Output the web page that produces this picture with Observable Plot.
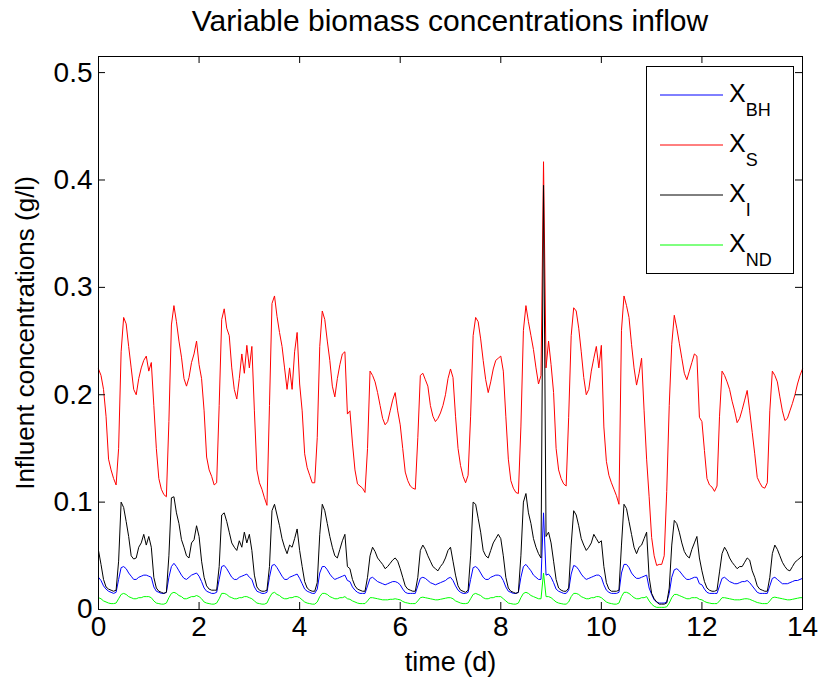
<!DOCTYPE html>
<html><head><meta charset="utf-8">
<script src="https://cdn.jsdelivr.net/npm/d3@7"></script>
<script src="https://cdn.jsdelivr.net/npm/@observablehq/plot@0.6"></script>
<style>
body{margin:0;background:#fff;font-family:"Liberation Sans",Arial,Helvetica,sans-serif;}
#wrap{position:relative;width:820px;height:684px;background:#fff;}
#title{position:absolute;left:98px;width:704px;top:0;height:42px;line-height:42px;text-align:center;font-size:30px;color:#000;white-space:nowrap;}
#chart{position:absolute;left:0;top:40px;}
#legend{position:absolute;left:646px;top:66px;width:146px;height:206px;border:1px solid #000;background:#fff;}
</style></head>
<body><div id="wrap"><div id="chart"></div><div id="title"></div><div id="legend"></div></div>
<script>
// sampling grid: every 0.05 d from 0 to 14
const time = d3.range(281).map(i => +(i * 0.05).toFixed(2));

const xBH = [
0.030,0.027,0.022,0.019,0.017,0.016,0.015,0.016,0.028,0.039,0.040,0.038,0.034,0.031,0.028,0.028,0.030,0.031,0.032,0.032,
0.031,0.030,0.021,0.017,0.016,0.015,0.015,0.016,0.030,0.040,0.043,0.040,0.036,0.032,0.029,0.028,0.030,0.032,0.033,0.034,
0.031,0.026,0.020,0.017,0.016,0.015,0.015,0.016,0.028,0.040,0.041,0.038,0.034,0.030,0.028,0.028,0.030,0.031,0.032,0.033,
0.030,0.028,0.021,0.017,0.016,0.015,0.015,0.016,0.030,0.041,0.042,0.039,0.035,0.031,0.028,0.028,0.030,0.031,0.032,0.033,
0.029,0.024,0.019,0.017,0.016,0.015,0.015,0.019,0.034,0.040,0.040,0.037,0.033,0.030,0.028,0.029,0.030,0.031,0.032,0.027,
0.026,0.021,0.018,0.016,0.015,0.015,0.015,0.022,0.029,0.030,0.028,0.026,0.025,0.024,0.023,0.024,0.025,0.026,0.026,0.025,
0.023,0.019,0.016,0.015,0.015,0.015,0.015,0.022,0.029,0.030,0.029,0.027,0.025,0.024,0.023,0.024,0.025,0.026,0.027,0.029,
0.030,0.027,0.022,0.018,0.016,0.015,0.015,0.016,0.028,0.039,0.040,0.038,0.034,0.030,0.028,0.028,0.030,0.031,0.032,0.032,
0.031,0.027,0.021,0.017,0.016,0.015,0.015,0.016,0.030,0.040,0.042,0.039,0.036,0.032,0.030,0.028,0.028,0.090,0.032,0.033,
0.030,0.025,0.019,0.017,0.016,0.015,0.015,0.018,0.033,0.041,0.040,0.037,0.033,0.030,0.028,0.029,0.030,0.031,0.032,0.032,
0.030,0.023,0.018,0.016,0.015,0.015,0.015,0.016,0.034,0.042,0.042,0.039,0.034,0.031,0.029,0.029,0.030,0.031,0.032,0.020,
0.014,0.009,0.007,0.006,0.006,0.006,0.007,0.015,0.030,0.037,0.038,0.036,0.033,0.030,0.028,0.028,0.029,0.030,0.030,0.024,
0.023,0.019,0.016,0.015,0.015,0.015,0.015,0.022,0.029,0.030,0.028,0.026,0.025,0.024,0.024,0.025,0.026,0.026,0.027,0.025,
0.022,0.019,0.016,0.015,0.015,0.015,0.015,0.022,0.029,0.030,0.028,0.026,0.024,0.024,0.024,0.025,0.026,0.027,0.027,0.028,
0.029];

const xS = [
0.224,0.218,0.205,0.180,0.140,0.130,0.122,0.116,0.150,0.240,0.272,0.266,0.245,0.225,0.205,0.200,0.215,0.225,0.232,0.236,
0.222,0.230,0.190,0.150,0.122,0.112,0.107,0.105,0.175,0.265,0.283,0.268,0.250,0.235,0.215,0.208,0.216,0.230,0.238,0.250,
0.228,0.215,0.185,0.142,0.130,0.124,0.116,0.118,0.190,0.270,0.280,0.262,0.255,0.225,0.205,0.196,0.215,0.238,0.220,0.246,
0.225,0.245,0.185,0.130,0.118,0.112,0.104,0.097,0.190,0.285,0.292,0.273,0.258,0.245,0.225,0.205,0.225,0.205,0.240,0.258,
0.210,0.185,0.145,0.132,0.125,0.118,0.118,0.160,0.245,0.278,0.270,0.250,0.232,0.208,0.198,0.215,0.228,0.238,0.240,0.182,
0.185,0.155,0.130,0.117,0.115,0.113,0.109,0.150,0.222,0.218,0.212,0.202,0.190,0.178,0.172,0.175,0.185,0.195,0.202,0.185,
0.172,0.150,0.128,0.120,0.115,0.113,0.112,0.160,0.218,0.220,0.214,0.208,0.190,0.180,0.175,0.178,0.183,0.190,0.200,0.215,
0.224,0.216,0.180,0.150,0.134,0.124,0.118,0.125,0.180,0.255,0.272,0.268,0.252,0.232,0.214,0.202,0.212,0.224,0.232,0.234,
0.236,0.222,0.180,0.140,0.120,0.113,0.109,0.108,0.170,0.260,0.283,0.268,0.255,0.242,0.225,0.210,0.218,0.417,0.225,0.250,
0.228,0.202,0.150,0.130,0.122,0.117,0.115,0.179,0.255,0.281,0.278,0.262,0.240,0.216,0.200,0.205,0.222,0.234,0.245,0.225,
0.246,0.170,0.138,0.125,0.118,0.112,0.106,0.098,0.260,0.292,0.283,0.272,0.247,0.225,0.209,0.220,0.234,0.185,0.140,0.105,
0.067,0.050,0.041,0.042,0.042,0.050,0.110,0.190,0.247,0.274,0.262,0.248,0.234,0.220,0.214,0.222,0.230,0.238,0.236,0.179,
0.175,0.148,0.122,0.116,0.114,0.110,0.115,0.180,0.222,0.218,0.212,0.205,0.194,0.185,0.174,0.178,0.186,0.195,0.204,0.185,
0.165,0.145,0.123,0.118,0.114,0.113,0.118,0.185,0.222,0.218,0.212,0.198,0.185,0.176,0.178,0.185,0.192,0.200,0.210,0.218,
0.224];

const xI = [
0.055,0.042,0.028,0.021,0.019,0.018,0.017,0.018,0.045,0.100,0.095,0.082,0.068,0.050,0.047,0.048,0.058,0.062,0.070,0.060,
0.068,0.058,0.030,0.020,0.017,0.016,0.015,0.016,0.050,0.104,0.105,0.090,0.080,0.065,0.058,0.050,0.048,0.062,0.065,0.078,
0.068,0.045,0.030,0.022,0.019,0.018,0.018,0.018,0.040,0.088,0.090,0.082,0.072,0.062,0.058,0.055,0.064,0.058,0.072,0.062,
0.070,0.055,0.032,0.021,0.018,0.017,0.017,0.018,0.040,0.092,0.098,0.088,0.078,0.066,0.058,0.052,0.060,0.058,0.066,0.075,
0.055,0.040,0.026,0.020,0.018,0.017,0.017,0.025,0.070,0.098,0.092,0.080,0.068,0.058,0.050,0.048,0.056,0.064,0.070,0.040,
0.038,0.028,0.022,0.019,0.018,0.017,0.017,0.030,0.050,0.058,0.054,0.048,0.045,0.042,0.038,0.040,0.043,0.046,0.048,0.045,
0.038,0.030,0.022,0.019,0.018,0.017,0.017,0.030,0.055,0.060,0.056,0.050,0.045,0.040,0.038,0.036,0.040,0.043,0.048,0.055,
0.058,0.045,0.032,0.022,0.018,0.017,0.016,0.018,0.050,0.100,0.098,0.085,0.072,0.055,0.050,0.048,0.055,0.062,0.066,0.070,
0.066,0.050,0.030,0.020,0.017,0.016,0.015,0.016,0.050,0.100,0.108,0.090,0.080,0.066,0.058,0.052,0.048,0.395,0.068,0.072,
0.062,0.045,0.028,0.020,0.018,0.017,0.017,0.020,0.060,0.092,0.088,0.078,0.066,0.060,0.055,0.058,0.062,0.070,0.066,0.062,
0.064,0.040,0.025,0.019,0.017,0.017,0.017,0.018,0.060,0.098,0.094,0.082,0.070,0.058,0.052,0.058,0.060,0.066,0.072,0.030,
0.015,0.010,0.007,0.005,0.005,0.005,0.006,0.020,0.060,0.083,0.080,0.072,0.062,0.054,0.050,0.048,0.056,0.062,0.068,0.048,
0.036,0.026,0.020,0.018,0.017,0.017,0.018,0.035,0.052,0.058,0.054,0.048,0.044,0.041,0.038,0.040,0.040,0.044,0.048,0.046,
0.036,0.030,0.022,0.019,0.018,0.017,0.017,0.030,0.052,0.060,0.056,0.050,0.044,0.040,0.037,0.036,0.040,0.044,0.046,0.048,
0.050];

const xND = [
0.011,0.010,0.008,0.007,0.006,0.0055,0.0055,0.006,0.010,0.014,0.015,0.014,0.012,0.011,0.010,0.010,0.011,0.011,0.012,0.012,
0.012,0.011,0.008,0.006,0.0055,0.005,0.005,0.006,0.011,0.015,0.016,0.015,0.013,0.012,0.010,0.010,0.011,0.012,0.012,0.013,
0.012,0.010,0.007,0.006,0.0055,0.005,0.005,0.006,0.010,0.015,0.015,0.014,0.012,0.011,0.010,0.010,0.011,0.011,0.012,0.012,
0.011,0.010,0.008,0.006,0.0055,0.005,0.005,0.006,0.011,0.015,0.016,0.014,0.013,0.011,0.010,0.010,0.011,0.011,0.012,0.012,
0.011,0.009,0.007,0.006,0.0055,0.005,0.005,0.007,0.012,0.015,0.015,0.014,0.012,0.011,0.010,0.010,0.011,0.011,0.012,0.010,
0.0095,0.008,0.007,0.006,0.0055,0.0055,0.0055,0.008,0.011,0.011,0.0105,0.010,0.0095,0.009,0.009,0.009,0.0095,0.0095,0.010,0.0095,
0.009,0.0075,0.0065,0.006,0.0055,0.0055,0.0055,0.008,0.011,0.0115,0.011,0.0105,0.010,0.0095,0.009,0.009,0.0095,0.010,0.0105,0.011,
0.011,0.010,0.008,0.007,0.006,0.0055,0.0055,0.006,0.010,0.014,0.015,0.014,0.013,0.011,0.010,0.010,0.011,0.011,0.012,0.012,
0.012,0.010,0.008,0.006,0.0055,0.005,0.005,0.006,0.011,0.015,0.016,0.015,0.013,0.012,0.011,0.010,0.010,0.034,0.012,0.012,
0.011,0.009,0.007,0.006,0.0055,0.005,0.005,0.007,0.012,0.015,0.015,0.014,0.012,0.011,0.010,0.010,0.011,0.011,0.012,0.012,
0.011,0.009,0.007,0.006,0.0055,0.005,0.005,0.006,0.012,0.016,0.016,0.015,0.013,0.011,0.010,0.010,0.011,0.011,0.012,0.008,
0.005,0.003,0.002,0.002,0.002,0.002,0.0025,0.006,0.011,0.014,0.014,0.013,0.012,0.011,0.010,0.010,0.011,0.011,0.011,0.0095,
0.009,0.0075,0.0065,0.006,0.0055,0.0055,0.0055,0.008,0.011,0.011,0.0105,0.010,0.0095,0.009,0.009,0.009,0.0095,0.010,0.010,0.0095,
0.0085,0.0075,0.0065,0.006,0.0055,0.0055,0.0055,0.008,0.011,0.0115,0.011,0.0105,0.010,0.0095,0.009,0.009,0.0095,0.010,0.0105,0.011,
0.011];

const seriesKeys = ["BH", "S", "I", "ND"];
const seriesValues = [xBH, xS, xI, xND];
const seriesColors = ["#0000ff", "#ff0000", "#000000", "#00ff00"];
const xTicks = [0, 2, 4, 6, 8, 10, 12, 14];
const yTicks = [0, 0.1, 0.2, 0.3, 0.4, 0.5];
const titleText = "Variable biomass concentrations inflow";
const xLabel = "time (d)";
const yLabel = "Influent concentrations (g/l)";

document.getElementById("title").textContent = titleText;

const W = 820, H = 644, mL = 98, mR = 18, mT = 16, mB = 75;
const iw = W - mL - mR, ih = H - mT - mB, tl = 7;

const lineMarks = seriesKeys.map((k, si) =>
  Plot.line(time.map((t, i) => ({t, v: seriesValues[si][i]})),
    {x: "t", y: "v", stroke: seriesColors[si], strokeWidth: 1}));

const chart = Plot.plot({
  width: W, height: H,
  marginLeft: mL, marginRight: mR, marginTop: mT, marginBottom: mB,
  style: {fontFamily: '"Liberation Sans", Arial, Helvetica, sans-serif', fontSize: "28px", background: "white", color: "black"},
  x: {domain: [0, 14], label: null},
  y: {domain: [0, 0.515], label: null},
  marks: [
    ...lineMarks,
    Plot.frame({stroke: "black", strokeWidth: 1}),
    Plot.tickX(xTicks, {x: d => d, insetTop: ih - tl, stroke: "black"}),
    Plot.tickX(xTicks, {x: d => d, insetBottom: ih - tl, stroke: "black"}),
    Plot.tickY(yTicks, {y: d => d, insetRight: iw - tl, stroke: "black"}),
    Plot.tickY(yTicks, {y: d => d, insetLeft: iw - tl, stroke: "black"}),
    Plot.axisX(xTicks, {tickSize: 0, tickPadding: 7, tickFormat: d => String(d), fontSize: 28, label: null}),
    Plot.axisY(yTicks, {tickSize: 0, tickPadding: 6, tickFormat: d => String(d), fontSize: 28, label: null}),
    Plot.text([xLabel], {frameAnchor: "bottom", dy: 53, text: d => d, fontSize: 27, textAnchor: "middle", lineAnchor: "middle"}),
    Plot.text([yLabel], {frameAnchor: "left", dx: -73, text: d => d, rotate: -90, fontSize: 26, textAnchor: "middle", lineAnchor: "middle"})
  ]
});
document.getElementById("chart").appendChild(chart);

// legend
const lg = d3.select("#legend").append("svg").attr("width", 146).attr("height", 206);
seriesKeys.forEach((k, i) => {
  const cy = 28 + i * 50;
  lg.append("line").attr("x1", 13).attr("x2", 76).attr("y1", cy).attr("y2", cy)
    .attr("stroke", seriesColors[i]).attr("stroke-width", 1);
  const t = lg.append("text").attr("x", 82).attr("y", cy + 7)
    .attr("font-family", '"Liberation Sans", Arial, sans-serif').attr("font-size", 25).attr("fill", "#000");
  t.append("tspan").text("X");
  t.append("tspan").attr("dy", 14).attr("font-size", 18).text(k);
});
</script>
</body></html>
